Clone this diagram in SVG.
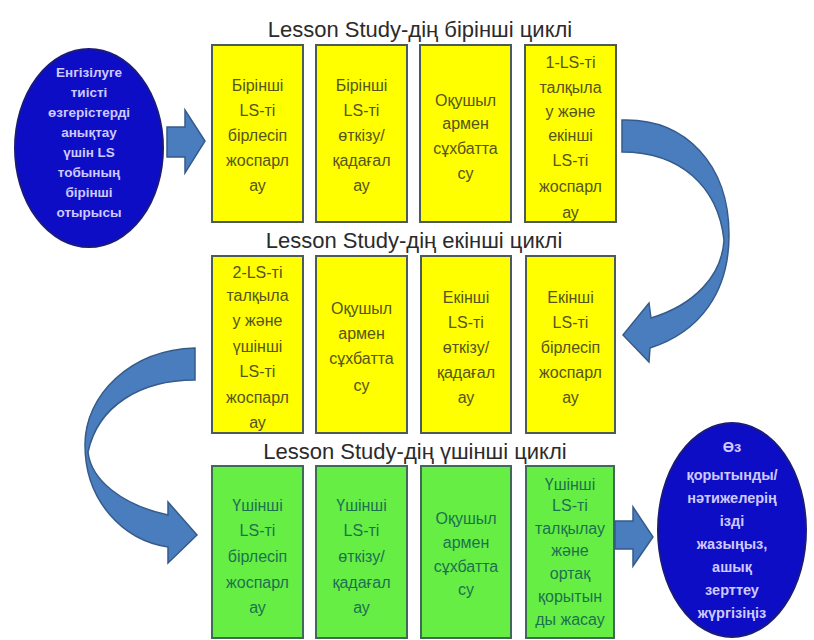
<svg xmlns="http://www.w3.org/2000/svg" width="814" height="640" viewBox="0 0 814 640">
<style>
text{font-family:"Liberation Sans",Arial,sans-serif;text-anchor:middle}
.title{font-size:22px;fill:#2b2b2b}
.yb{fill:#ffff00;stroke:#4d5a5a;stroke-width:2}
.gb{fill:#66ee44;stroke:#3f6a5a;stroke-width:2}
.yt{font-size:16px;fill:#55551c}
.gt{font-size:16px;fill:#1c7250}
.el{fill:#0d0dc6;stroke:#1b1b7a;stroke-width:2}
.et{font-size:13.5px;font-weight:bold;fill:#cfc9ff}
.ar{fill:#4a7dbd;stroke:#355b8a;stroke-width:1.5}
</style>
<rect width="814" height="640" fill="#ffffff"/>
<text class="title" x="420" y="37">Lesson Study-дің бірінші циклі</text>
<text class="title" x="414" y="248">Lesson Study-дің екінші циклі</text>
<text class="title" x="415" y="459">Lesson Study-дің үшінші циклі</text>

<g id="start">
<ellipse class="el" cx="89" cy="148" rx="74" ry="99"/>
<text class="et"><tspan x="89" y="77">Енгізілуге</tspan><tspan x="89" y="97">тиісті</tspan><tspan x="89" y="117">өзгерістерді</tspan><tspan x="89" y="137">анықтау</tspan><tspan x="89" y="157">үшін LS</tspan><tspan x="89" y="177">тобының</tspan><tspan x="89" y="197">бірінші</tspan><tspan x="89" y="217">отырысы</tspan></text>
</g>

<g id="c1b1"><rect class="yb" x="212" y="45" width="91" height="177"/>
<text class="yt"><tspan x="257.5" y="91">Бірінші</tspan><tspan x="257.5" y="116">LS-ті</tspan><tspan x="257.5" y="141">бірлесіп</tspan><tspan x="257.5" y="166">жоспарл</tspan><tspan x="257.5" y="191">ау</tspan></text></g>
<g id="c1b2"><rect class="yb" x="316" y="45" width="91" height="177"/>
<text class="yt"><tspan x="361.5" y="91">Бірінші</tspan><tspan x="361.5" y="116">LS-ті</tspan><tspan x="361.5" y="141">өткізу/</tspan><tspan x="361.5" y="166">қадағал</tspan><tspan x="361.5" y="191">ау</tspan></text></g>
<g id="c1b3"><rect class="yb" x="420" y="45" width="91" height="177"/>
<text class="yt"><tspan x="465.5" y="106">Оқушыл</tspan><tspan x="465.5" y="129">армен</tspan><tspan x="465.5" y="154">сұхбатта</tspan><tspan x="465.5" y="179">су</tspan></text></g>
<g id="c1b4"><rect class="yb" x="525" y="45" width="91" height="177"/>
<text class="yt"><tspan x="570.5" y="68">1-LS-ті</tspan><tspan x="570.5" y="93">талқыла</tspan><tspan x="570.5" y="117">у және</tspan><tspan x="570.5" y="141">екінші</tspan><tspan x="570.5" y="166">LS-ті</tspan><tspan x="570.5" y="192">жоспарл</tspan><tspan x="570.5" y="218">ау</tspan></text></g>

<g id="c2b1"><rect class="yb" x="212" y="256" width="91" height="177"/>
<text class="yt"><tspan x="257.5" y="278">2-LS-ті</tspan><tspan x="257.5" y="301">талқыла</tspan><tspan x="257.5" y="326">у және</tspan><tspan x="257.5" y="352">үшінші</tspan><tspan x="257.5" y="377">LS-ті</tspan><tspan x="257.5" y="403">жоспарл</tspan><tspan x="257.5" y="428">ау</tspan></text></g>
<g id="c2b2"><rect class="yb" x="316" y="256" width="91" height="177"/>
<text class="yt"><tspan x="361.5" y="314">Оқушыл</tspan><tspan x="361.5" y="339">армен</tspan><tspan x="361.5" y="364">сұхбатта</tspan><tspan x="361.5" y="391">су</tspan></text></g>
<g id="c2b3"><rect class="yb" x="421" y="256" width="90" height="177"/>
<text class="yt"><tspan x="466" y="303">Екінші</tspan><tspan x="466" y="328">LS-ті</tspan><tspan x="466" y="353">өткізу/</tspan><tspan x="466" y="378">қадағал</tspan><tspan x="466" y="403">ау</tspan></text></g>
<g id="c2b4"><rect class="yb" x="526" y="256" width="89" height="177"/>
<text class="yt"><tspan x="570.5" y="303">Екінші</tspan><tspan x="570.5" y="328">LS-ті</tspan><tspan x="570.5" y="353">бірлесіп</tspan><tspan x="570.5" y="378">жоспарл</tspan><tspan x="570.5" y="403">ау</tspan></text></g>

<g id="c3b1"><rect class="gb" x="212" y="466" width="91" height="172"/>
<text class="gt"><tspan x="257.5" y="511">Үшінші</tspan><tspan x="257.5" y="536">LS-ті</tspan><tspan x="257.5" y="562">бірлесіп</tspan><tspan x="257.5" y="588">жоспарл</tspan><tspan x="257.5" y="613">ау</tspan></text></g>
<g id="c3b2"><rect class="gb" x="316" y="466" width="91" height="172"/>
<text class="gt"><tspan x="361.5" y="511">Үшінші</tspan><tspan x="361.5" y="536">LS-ті</tspan><tspan x="361.5" y="562">өткізу/</tspan><tspan x="361.5" y="588">қадағал</tspan><tspan x="361.5" y="613">ау</tspan></text></g>
<g id="c3b3"><rect class="gb" x="421" y="466" width="90" height="172"/>
<text class="gt"><tspan x="466" y="524">Оқушыл</tspan><tspan x="466" y="548">армен</tspan><tspan x="466" y="572">сұхбатта</tspan><tspan x="466" y="595">су</tspan></text></g>
<g id="c3b4"><rect class="gb" x="526" y="466" width="88" height="172"/>
<text class="gt"><tspan x="570" y="490">Үшінші</tspan><tspan x="570" y="511">LS-ті</tspan><tspan x="570" y="534">талқылау</tspan><tspan x="570" y="556">және</tspan><tspan x="570" y="579">ортақ</tspan><tspan x="570" y="602">қорытын</tspan><tspan x="570" y="625">ды жасау</tspan></text></g>

<g id="end">
<ellipse class="el" cx="732" cy="530" rx="74" ry="107"/>
<text class="et" style="font-size:14.5px"><tspan x="732" y="452">Өз</tspan><tspan x="732" y="480">қорытынды/</tspan><tspan x="732" y="503">нәтижелерің</tspan><tspan x="732" y="526">ізді</tspan><tspan x="732" y="549">жазыңыз,</tspan><tspan x="732" y="572">ашық</tspan><tspan x="732" y="595">зерттеу</tspan><tspan x="732" y="618">жүргізіңіз</tspan></text>
</g>

<g id="connectors">
<path class="ar" d="M167,127 L185,127 L185,110 L205,141 L185,173 L185,157 L167,157 Z"/>
<path class="ar" d="M622,120 C686,118 729,165 729,235 C729,292 700,332 650,348 L649,362 L623,335 L649,303 L651,318 C694,305 722,276 724,240 C718,186 680,152 622,152 Z"/>
<path class="ar" d="M195,348 C130,350 85,395 85,445 C85,500 122,540 168,547 L168,563 L197,535 L168,502 L168,515 C122,505 91,480 88,452 C98,406 140,380 195,380 Z"/>
<path class="ar" d="M615,521 L633,521 L633,507 L653,537 L633,566 L633,549 L615,549 Z"/>
</g>
</svg>
